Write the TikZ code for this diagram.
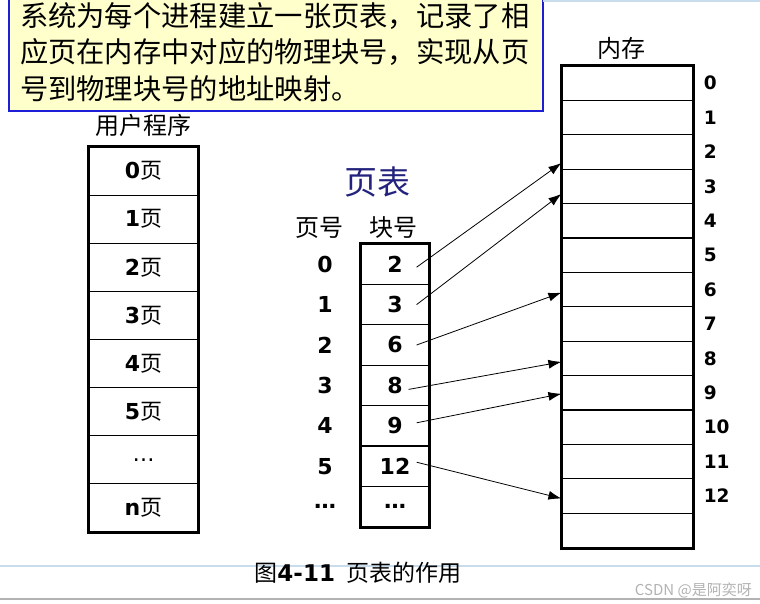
\documentclass[tikz,border=0pt]{standalone}
\usepackage{fontspec}
\setmainfont{DejaVu Sans}
\newfontfamily\cjk{Noto Sans CJK SC}
\usetikzlibrary{arrows.meta}

\definecolor{noteyellow}{RGB}{255,255,204}
\definecolor{noteblue}{RGB}{30,30,215}
\definecolor{titlenavy}{RGB}{35,35,125}
\definecolor{rulegray}{RGB}{178,178,178}
\definecolor{ruleblue}{RGB}{200,220,236}

\newcommand{\pg}[1]{\textbf{#1}{\cjk 页}}

\begin{document}
\begin{tikzpicture}[x=1pt, y=-1pt,
    note/.style={draw=noteblue, fill=noteyellow, line width=2pt,
                 minimum width=534pt, minimum height=118pt, inner sep=0pt,
                 text width=512pt, align=left,
                 font=\cjk\fontsize{28.3}{33.5}\selectfont},
    prog/.style={draw, line width=1.2pt, minimum width=109pt,
                 minimum height=48.1pt, inner sep=0pt,
                 font=\fontsize{22}{22}\selectfont},
    tab/.style={draw, line width=1.2pt, minimum width=68pt,
                minimum height=40.4pt, inner sep=0pt,
                font=\bfseries\fontsize{22}{22}\selectfont},
    mem/.style={draw, line width=1.2pt, minimum width=131pt,
                minimum height=34.4pt, inner sep=0pt},
    num/.style={font=\bfseries\fontsize{22}{22}\selectfont, inner sep=0pt},
    blk/.style={font=\bfseries\fontsize{18.5}{18.5}\selectfont, inner sep=0pt,
                xshift=10pt},
    head/.style={font=\cjk\fontsize{24}{24}\selectfont, inner sep=0pt},
    frame/.style={line width=3pt},
    arr/.style={-{Latex[length=13pt,width=9pt]}, line width=0.8pt}
]
\useasboundingbox (0,0) rectangle (760,604);

% explanation box
\node[note] (note) at (276,52) {系统为每个进程建立一张页表，记录了相\\[3pt]
应页在内存中对应的物理块号，实现从页\\[3pt]
号到物理块号的地址映射。};

% user program
\node[head] (uhead) at (143,125) {用户程序};
\node[prog] (u0) at (143.5,171.1) {\pg{0}};
\node[prog] (u1) at (143.5,219.2) {\pg{1}};
\node[prog] (u2) at (143.5,267.3) {\pg{2}};
\node[prog] (u3) at (143.5,315.4) {\pg{3}};
\node[prog] (u4) at (143.5,363.5) {\pg{4}};
\node[prog] (u5) at (143.5,411.6) {\pg{5}};
\node[prog] (u6) at (143.5,459.7) {…};
\node[prog] (un) at (143.5,507.8) {\pg{n}};
\draw[frame] (u0.north west) rectangle (un.south east);

% page table
\node[font=\cjk\fontsize{33}{33}\selectfont, text=titlenavy] (ttitle) at (377,182) {页表};
\node[head] (phead) at (319,228) {页号};
\node[head] (bhead) at (393,228) {块号};
\node[tab] (b0) at (395,264.2) {2};
\node[tab] (b1) at (395,304.6) {3};
\node[tab] (b2) at (395,345.0) {6};
\node[tab] (b3) at (395,385.4) {8};
\node[tab] (b4) at (395,425.8) {9};
\node[tab] (b5) at (395,466.2) {12};
\node[tab] (b6) at (395,506.6) {…};
\draw[frame] (b0.north west) rectangle (b6.south east);
\node[num] (p0) at (325,264.2) {0};
\node[num] (p1) at (325,304.6) {1};
\node[num] (p2) at (325,345.0) {2};
\node[num] (p3) at (325,385.4) {3};
\node[num] (p4) at (325,425.8) {4};
\node[num] (p5) at (325,466.2) {5};
\node[num] (p6) at (325,506.6) {…};

% memory
\node[head] (mhead) at (621,48) {内存};
\node[mem, label={[blk]right:0}]  (m0)  at (627.5,83.2)  {};
\node[mem, label={[blk]right:1}]  (m1)  at (627.5,117.6) {};
\node[mem, label={[blk]right:2}]  (m2)  at (627.5,152.0) {};
\node[mem, label={[blk]right:3}]  (m3)  at (627.5,186.4) {};
\node[mem, label={[blk]right:4}]  (m4)  at (627.5,220.8) {};
\node[mem, label={[blk]right:5}]  (m5)  at (627.5,255.2) {};
\node[mem, label={[blk]right:6}]  (m6)  at (627.5,289.6) {};
\node[mem, label={[blk]right:7}]  (m7)  at (627.5,324.0) {};
\node[mem, label={[blk]right:8}]  (m8)  at (627.5,358.4) {};
\node[mem, label={[blk]right:9}]  (m9)  at (627.5,392.8) {};
\node[mem, label={[blk]right:10}] (m10) at (627.5,427.2) {};
\node[mem, label={[blk]right:11}] (m11) at (627.5,461.6) {};
\node[mem, label={[blk]right:12}] (m12) at (627.5,496.0) {};
\node[mem]                        (m13) at (627.5,530.4) {};
\draw[frame] (m0.north west) rectangle (m13.south east);

% page -> block mapping
\draw[arr] ([xshift=-13pt,yshift=-3pt]b0.east) -- ([yshift=-11pt]m2.west);
\draw[arr] ([xshift=-13pt]b1.east) -- ([yshift=-7.5pt]m3.west);
\draw[arr] ([xshift=-13pt]b2.east) -- ([yshift=-3pt]m6.west);
\draw[arr] ([xshift=-21pt,yshift=-4pt]b3.east) -- ([yshift=-3.5pt]m8.west);
\draw[arr] ([xshift=-13pt,yshift=3pt]b4.east) -- ([yshift=-1pt]m9.west);
\draw[arr] ([xshift=-13pt,yshift=4pt]b5.east) -- ([yshift=-2.5pt]m12.west);

% caption and page edges
\draw[ruleblue, line width=1.5pt] (0,566) -- (760,566);
\draw[rulegray, line width=2pt] (0,599) -- (760,599);
\draw[ruleblue, line width=2pt] (543,1) -- (760,1);
\node[font=\fontsize{23}{23}\selectfont, inner sep=0pt] (caption) at (358,573)
    {{\cjk 图}\textbf{4-11}\hspace{0.5em}{\cjk 页表的作用}};
\node[font=\cjk\fontsize{15}{15}\selectfont, text=gray!60, anchor=east,
      inner sep=0pt] (mark) at (752,590) {CSDN @是阿奕呀};

\end{tikzpicture}
\end{document}
